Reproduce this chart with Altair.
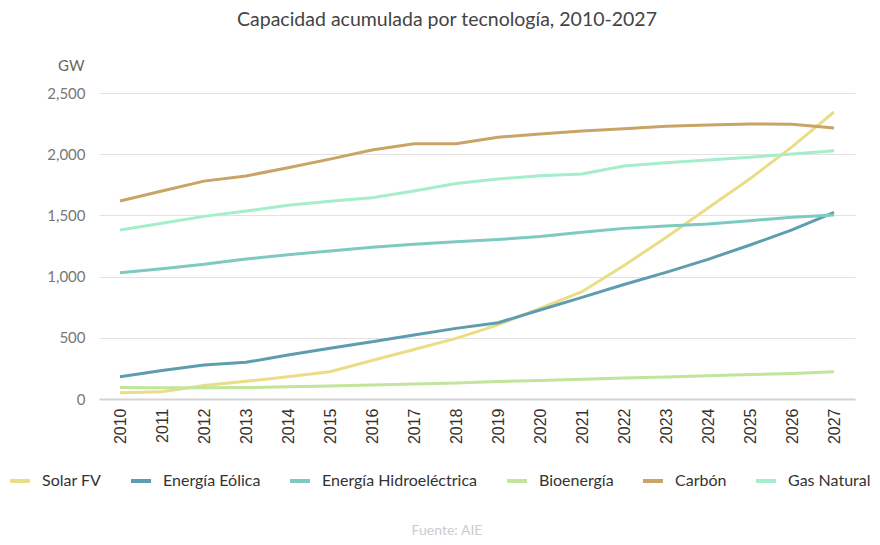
import altair as alt
import pandas as pd

years = list(range(2010, 2028))
series = ["Solar FV", "Energía Eólica", "Energía Hidroeléctrica", "Bioenergía", "Carbón", "Gas Natural"]
colors = ["#eadd86", "#5e9db0", "#7ecac1", "#c2e59c", "#c9a466", "#a5edcb"]

solar = [52, 60, 110, 145, 182, 223, 315, 405, 495, 605, 741, 877, 1090, 1320, 1560, 1800, 2060, 2345]
eolica = [182, 232, 278, 300, 359, 414, 468, 523, 577, 623, 727, 830, 935, 1035, 1141, 1258, 1381, 1525]
hidro = [1032, 1065, 1100, 1144, 1179, 1210, 1240, 1265, 1285, 1303, 1328, 1362, 1394, 1413, 1430, 1457, 1484, 1503]
bio = [93, 92, 91, 93, 100, 107, 115, 122, 130, 142, 152, 162, 172, 180, 190, 200, 208, 222]
carbon = [1618, 1700, 1780, 1822, 1890, 1960, 2034, 2085, 2085, 2138, 2165, 2190, 2208, 2228, 2238, 2247, 2245, 2214]
gas = [1381, 1435, 1492, 1536, 1582, 1615, 1645, 1700, 1760, 1797, 1824, 1838, 1904, 1931, 1953, 1975, 2002, 2029]

title_text = "Capacidad acumulada por tecnología, 2010-2027"
source_text = "Fuente: AIE"

values = [solar, eolica, hidro, bio, carbon, gas]
rows = []
for name, vals in zip(series, values):
    for yr, v in zip(years, vals):
        rows.append({"Año": str(yr), "Tecnología": name, "GW": v})
df = pd.DataFrame(rows)

FONT = "Lato"

lines = alt.Chart(df).mark_line(strokeWidth=3).encode(
    x=alt.X("Año:O", scale=alt.Scale(paddingOuter=0.5, paddingInner=0),
            axis=alt.Axis(title=None, labelAngle=-90, labelFontSize=16, labelColor="#333333",
                          labelFont="Liberation Sans", labelPadding=9, ticks=False,
                          domainColor="#d4d4d4", domainWidth=2, grid=False)),
    y=alt.Y("GW:Q", scale=alt.Scale(domain=[0, 2500], nice=False),
            axis=alt.Axis(title="GW", titleAngle=0, titleX=-15, titleY=-28, titleAlign="right",
                          titleBaseline="middle", titleFontWeight="normal", titleFontSize=15,
                          titleColor="#666666", titleFont=FONT,
                          values=[0, 500, 1000, 1500, 2000, 2500], format=",d",
                          labelFontSize=15, labelColor="#777777", labelFont=FONT, labelPadding=14,
                          ticks=False, domain=False, gridColor="#e2e2e2", gridWidth=1)),
    color=alt.Color("Tecnología:N", scale=alt.Scale(domain=series, range=colors), sort=series,
                    legend=alt.Legend(title=None, orient="none", legendX=-91, legendY=376,
                                      direction="horizontal", columns=6, symbolType="stroke",
                                      symbolStrokeWidth=4, symbolSize=400, labelFontSize=16,
                                      labelColor="#333333", labelFont=FONT, columnPadding=21,
                                      labelOffset=10, labelLimit=250)),
)

title = alt.Chart(pd.DataFrame({"t": [title_text]})).mark_text(
    fontSize=19.5, color="#444444", font=FONT, align="center", baseline="middle"
).encode(text="t:N", x=alt.value(348), y=alt.value(-73))

source = alt.Chart(pd.DataFrame({"t": [source_text]})).mark_text(
    fontSize=14, color="#cccccc", font=FONT, align="center", baseline="middle"
).encode(text="t:N", x=alt.value(348), y=alt.value(438))

chart = alt.layer(lines, title, source).properties(
    width=756, height=306,
    autosize=alt.AutoSizeParams(type="none"),
    padding={"left": 91, "top": 85, "right": 17, "bottom": 138},
).configure_view(stroke=None)

chart.save("out.html", embed_options={"renderer": "svg", "actions": False})
